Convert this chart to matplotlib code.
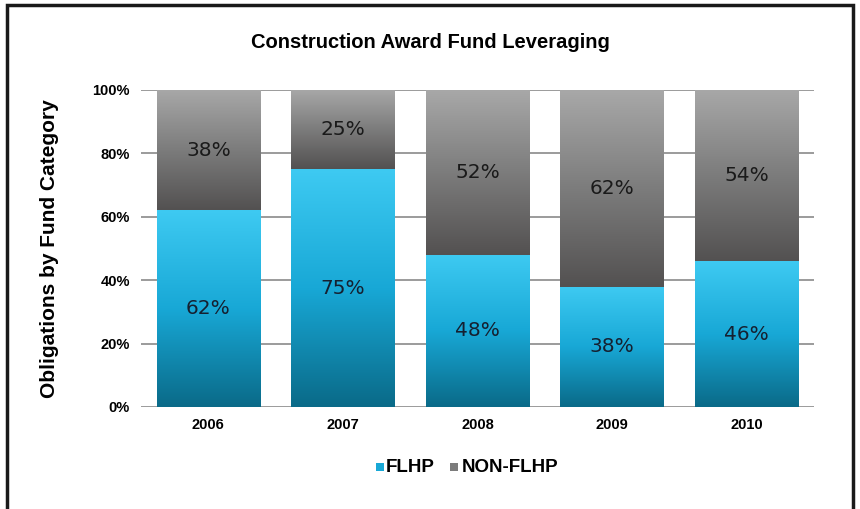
import numpy as np
import matplotlib
matplotlib.use("Agg")
import matplotlib.pyplot as plt
from matplotlib.colors import LinearSegmentedColormap
from matplotlib.patches import Rectangle

years = ["2006", "2007", "2008", "2009", "2010"]
flhp = [62, 75, 48, 38, 46]
non_flhp = [38, 25, 52, 62, 54]

narrow = ["Liberation Sans Narrow", "Liberation Sans", "DejaVu Sans"]

blue_cmap = LinearSegmentedColormap.from_list("blue", ["#0a6a88", "#18a8d6", "#3ecaf2"])
gray_cmap = LinearSegmentedColormap.from_list("gray", ["#535151", "#7c7c7c", "#a8a8a8"])


def gradient_fill(ax, bars, cmap):
    grad = np.linspace(0, 1, 256).reshape(-1, 1)
    for b in bars:
        x0, y0 = b.get_x(), b.get_y()
        w, h = b.get_width(), b.get_height()
        ax.imshow(grad, cmap=cmap, origin="lower", aspect="auto",
                  extent=[x0, x0 + w, y0, y0 + h], zorder=2)


fig = plt.figure(figsize=(8.6, 5.09), dpi=100)
ax = fig.add_axes([0.164, 0.2004, 0.7826, 0.6228])

x = np.arange(len(years))
bw = 0.77
b1 = ax.bar(x, flhp, bw, color="none", edgecolor="none", zorder=2)
b2 = ax.bar(x, non_flhp, bw, bottom=flhp, color="none", edgecolor="none", zorder=2)
gradient_fill(ax, b1, blue_cmap)
gradient_fill(ax, b2, gray_cmap)

for i in range(len(years)):
    ax.text(x[i], flhp[i] / 2, f"{flhp[i]}%", ha="center", va="center",
            fontsize=14.5, color="#152030", zorder=3)
    ax.text(x[i], flhp[i] + non_flhp[i] / 2, f"{non_flhp[i]}%", ha="center",
            va="center", fontsize=14.5, color="#1a1a1a", zorder=3)

ax.set_xlim(-0.5, len(years) - 0.5)
ax.set_ylim(0, 100)
ax.set_yticks(np.arange(0, 101, 20))
ax.set_yticklabels([f"{v}%" for v in range(0, 101, 20)], fontweight="bold",
                   fontsize=10.5, family=narrow)
ax.set_xticks(x)
ax.set_xticklabels(years, fontweight="bold", fontsize=10.5, family=narrow)
ax.tick_params(axis="both", length=0, pad=8)
ax.yaxis.grid(True, color="#8a8a8a", linewidth=1.2, zorder=1)
ax.set_axisbelow(True)
for s in ax.spines.values():
    s.set_visible(False)
ax.set_ylabel("Obligations by Fund Category", fontweight="bold", fontsize=15,
              family=narrow, labelpad=24)

fig.text(0.5, 0.917, "Construction Award Fund Leveraging", ha="center", va="center",
         fontweight="bold", fontsize=14.5, family=narrow)

# legend
fig.patches.append(Rectangle((0.437, 0.074), 0.009, 0.016, transform=fig.transFigure,
                             facecolor="#18a8d6", edgecolor="none"))
fig.text(0.449, 0.082, "FLHP", ha="left", va="center", fontweight="bold",
         fontsize=13.5, family=narrow)
fig.patches.append(Rectangle((0.523, 0.074), 0.009, 0.016, transform=fig.transFigure,
                             facecolor="#7c7c7c", edgecolor="none"))
fig.text(0.537, 0.082, "NON-FLHP", ha="left", va="center", fontweight="bold",
         fontsize=13.5, family=narrow)

# outer frame
fig.patches.append(Rectangle((0.008, -0.05), 0.984, 1.040, transform=fig.transFigure,
                             facecolor="none", edgecolor="#1a1a1a", linewidth=2.5))

fig.savefig("out.png", dpi=100)
